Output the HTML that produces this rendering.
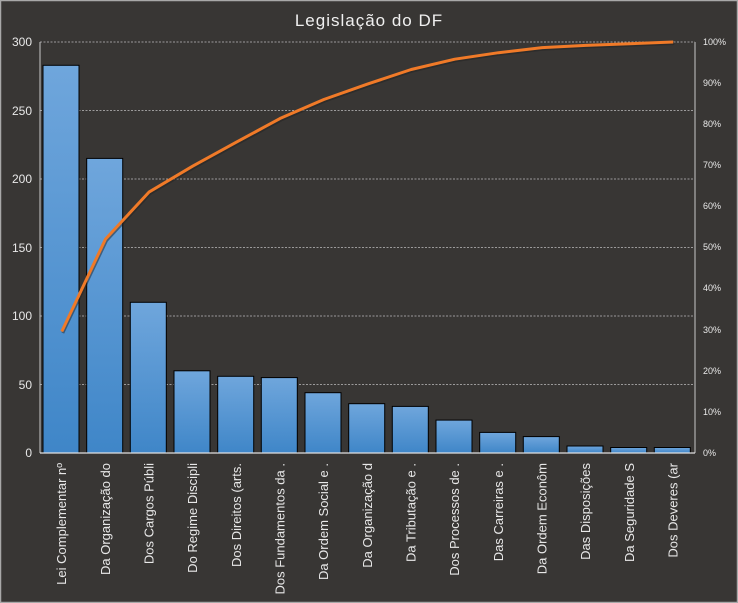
<!DOCTYPE html>
<html><head><meta charset="utf-8"><style>
html,body{margin:0;padding:0;background:#383634;}
svg{display:block;font-family:"Liberation Sans","DejaVu Sans",sans-serif;}
</style></head><body>
<svg width="738" height="603" viewBox="0 0 738 603" xmlns="http://www.w3.org/2000/svg">
<defs>
<linearGradient id="bg" x1="0" y1="0" x2="0" y2="1">
<stop offset="0" stop-color="#6fa6dc"/><stop offset="1" stop-color="#3f86c8"/>
</linearGradient>
</defs>
<rect x="0.5" y="0.5" width="737" height="602" fill="#383634" stroke="#a8a8a8" stroke-width="1.5"/>
<text x="369" y="26" text-anchor="middle" fill="#f0f0f0" font-size="17" letter-spacing="1">Legislação do DF</text>
<g stroke="#bdbdbd" stroke-width="0.8" stroke-dasharray="2,1.5">
<line x1="40" y1="42" x2="695" y2="42"/><line x1="40" y1="110.5" x2="695" y2="110.5"/><line x1="40" y1="179" x2="695" y2="179"/><line x1="40" y1="247.5" x2="695" y2="247.5"/><line x1="40" y1="316" x2="695" y2="316"/><line x1="40" y1="384.5" x2="695" y2="384.5"/>
</g>
<line x1="40" y1="42" x2="40" y2="453" stroke="#c8c8c8"/>
<line x1="695" y1="42" x2="695" y2="453" stroke="#c8c8c8"/>
<g fill="#e8e8e8" font-size="12" text-anchor="end">
<text x="32" y="46">300</text><text x="32" y="115">250</text><text x="32" y="183">200</text><text x="32" y="252">150</text><text x="32" y="320">100</text><text x="32" y="389">50</text><text x="32" y="457">0</text>
</g>
<g fill="#e8e8e8" font-size="9">
<text x="703" y="45">100%</text><text x="703" y="86">90%</text><text x="703" y="127">80%</text><text x="703" y="168">70%</text><text x="703" y="209">60%</text><text x="703" y="250">50%</text><text x="703" y="291">40%</text><text x="703" y="333">30%</text><text x="703" y="374">20%</text><text x="703" y="415">10%</text><text x="703" y="456">0%</text>
</g>
<g fill="url(#bg)" stroke="#000" stroke-width="1">
<rect x="43" y="65.3" width="36" height="387.7"/>
<rect x="86.7" y="158.4" width="36" height="294.6"/>
<rect x="130.3" y="302.3" width="36" height="150.7"/>
<rect x="174" y="370.8" width="36" height="82.2"/>
<rect x="217.7" y="376.3" width="36" height="76.7"/>
<rect x="261.3" y="377.6" width="36" height="75.4"/>
<rect x="305" y="392.7" width="36" height="60.3"/>
<rect x="348.7" y="403.7" width="36" height="49.3"/>
<rect x="392.3" y="406.4" width="36" height="46.6"/>
<rect x="436" y="420.1" width="36" height="32.9"/>
<rect x="479.7" y="432.4" width="36" height="20.6"/>
<rect x="523.3" y="436.6" width="36" height="16.4"/>
<rect x="567" y="446" width="36" height="7"/>
<rect x="610.7" y="447.5" width="36" height="5.5"/>
<rect x="654.3" y="447.5" width="36" height="5.5"/>
</g>
<line x1="40" y1="453" x2="695" y2="453" stroke="#e0e0e0" stroke-width="1.2"/>
<polyline fill="none" stroke="#222" stroke-opacity="0.5" stroke-width="3" transform="translate(1,1.5)" points="61.8,331.5 105.5,239.1 149.2,191.9 192.8,166.1 236.5,142.1 280.2,118.4 323.8,99.5 367.5,84.1 411.2,69.5 454.8,59.2 498.5,52.7 542.2,47.6 585.8,45.4 629.5,43.7 673.2,42"/>
<polyline fill="none" stroke="#f07a28" stroke-width="3" stroke-linejoin="round" points="61.8,331.5 105.5,239.1 149.2,191.9 192.8,166.1 236.5,142.1 280.2,118.4 323.8,99.5 367.5,84.1 411.2,69.5 454.8,59.2 498.5,52.7 542.2,47.6 585.8,45.4 629.5,43.7 673.2,42"/>
<g fill="#e8e8e8" font-size="13" text-anchor="end">
<text transform="translate(66,463) rotate(-90)">Lei Complementar nº</text>
<text transform="translate(110,463) rotate(-90)">Da Organização do</text>
<text transform="translate(153.5,463) rotate(-90)">Dos Cargos Públi</text>
<text transform="translate(197,463) rotate(-90)">Do Regime Discipli</text>
<text transform="translate(241,463) rotate(-90)">Dos Direitos (arts.</text>
<text transform="translate(284.5,463) rotate(-90)">Dos Fundamentos da .</text>
<text transform="translate(328,463) rotate(-90)">Da Ordem Social e .</text>
<text transform="translate(372,463) rotate(-90)">Da Organização d</text>
<text transform="translate(415.5,463) rotate(-90)">Da Tributação e .</text>
<text transform="translate(459,463) rotate(-90)">Dos Processos de .</text>
<text transform="translate(503,463) rotate(-90)">Das Carreiras e .</text>
<text transform="translate(546.5,463) rotate(-90)">Da Ordem Econôm</text>
<text transform="translate(590,463) rotate(-90)">Das Disposições</text>
<text transform="translate(634,463) rotate(-90)">Da Seguridade S</text>
<text transform="translate(677.5,463) rotate(-90)">Dos Deveres (ar</text>
</g>
</svg>
</body></html>
